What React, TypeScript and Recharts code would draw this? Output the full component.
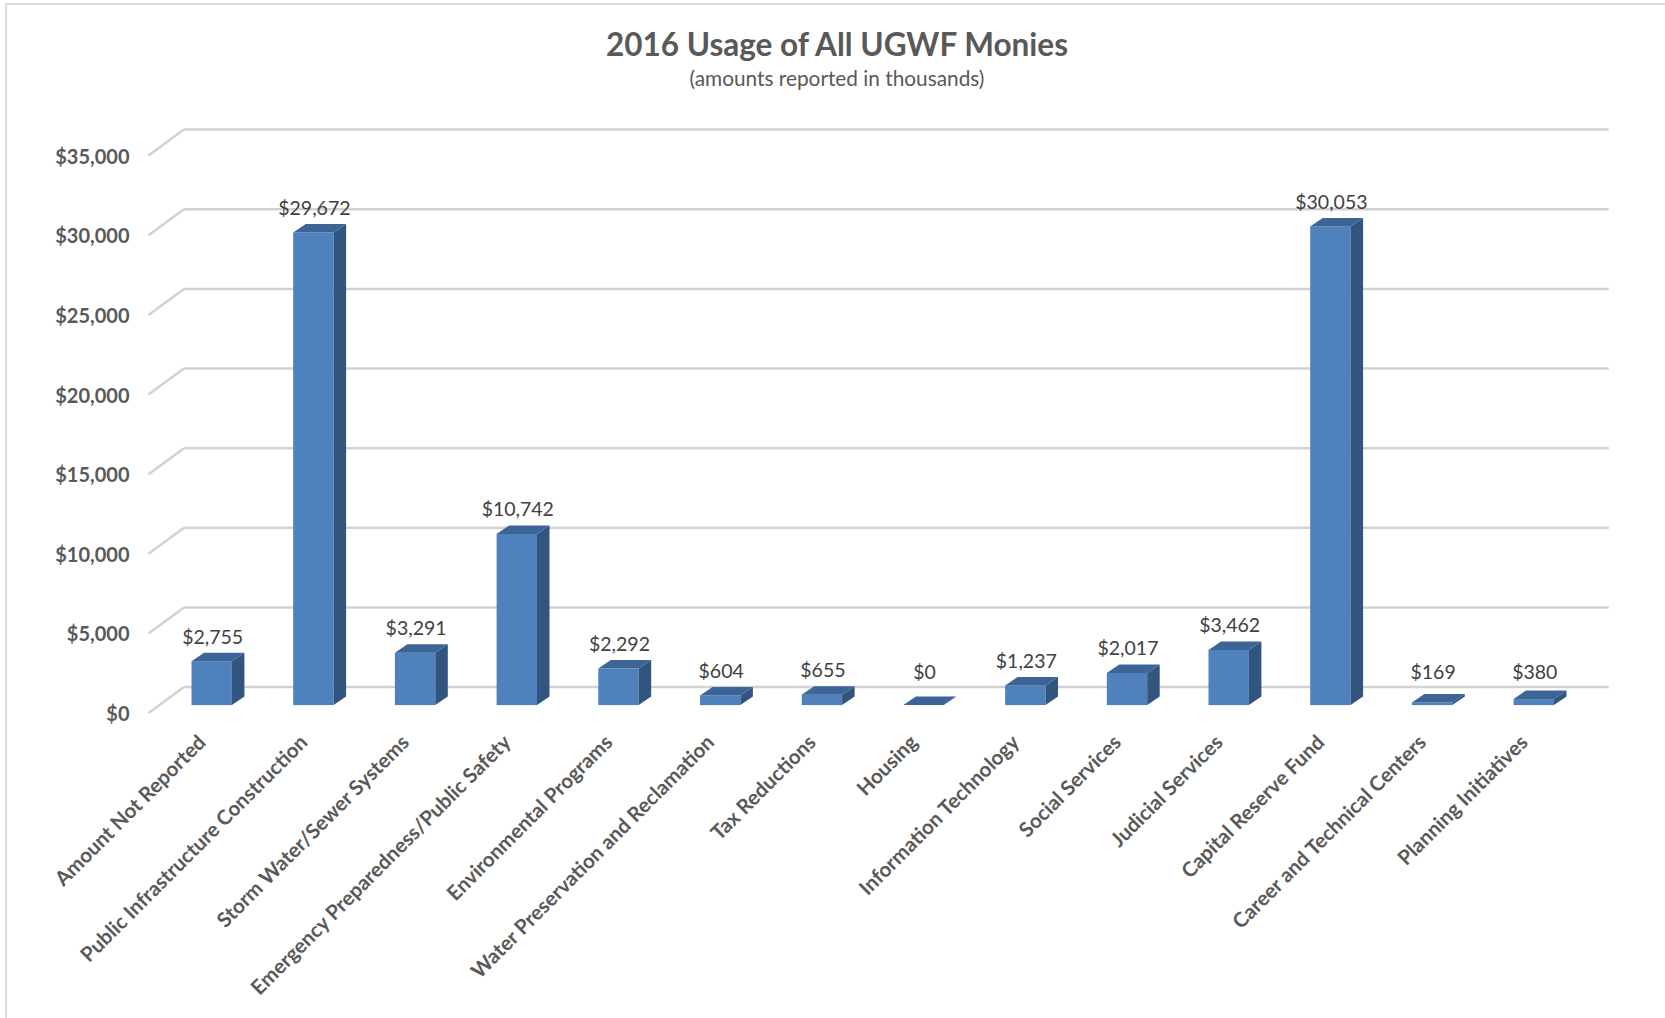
import { Bar, BarChart, CartesianGrid, LabelList, XAxis, YAxis } from "recharts";

const CATEGORIES = [
  "Amount Not Reported",
  "Public Infrastructure Construction",
  "Storm Water/Sewer Systems",
  "Emergency Preparedness/Public Safety",
  "Environmental Programs",
  "Water Preservation and Reclamation",
  "Tax Reductions",
  "Housing",
  "Information Technology",
  "Social Services",
  "Judicial Services",
  "Capital Reserve Fund",
  "Career and Technical Centers",
  "Planning Initiatives",
];

const VALUES = [2755, 29672, 3291, 10742, 2292, 604, 655, 0, 1237, 2017, 3462, 30053, 169, 380];

const Y_TICKS = [0, 5000, 10000, 15000, 20000, 25000, 30000, 35000];

const DATA = CATEGORIES.map((name, i) => ({ name, value: VALUES[i] }));

const FONT = "Lato, 'Open Sans', sans-serif";
const AXIS_GRAY = "#595959";
const GRID = "#D2D2D2";
const FRONT = "#4F81BD";
const SIDE = "#32557F";
const TOP = "#3C6496";
// 3D depth offsets
const DX = 12.5;
const DY = 8.5;
// labels of short bars never sit lower than this line
const LABEL_FLOOR = 671;

const money = (v: number) => "$" + v.toLocaleString("en-US");

function Bar3D(props: any) {
  const { x, y, width, height } = props;
  if (x == null || y == null) return null;
  const h = Math.max(0, height || 0);
  return (
    <g>
      <rect x={x} y={y} width={width} height={h} fill={FRONT} />
      <polygon
        points={`${x + width},${y} ${x + width + DX},${y - DY} ${x + width + DX},${y + h - DY} ${x + width},${y + h}`}
        fill={SIDE}
      />
      <polygon
        points={`${x},${y} ${x + DX},${y - DY} ${x + width + DX},${y - DY} ${x + width},${y}`}
        fill={TOP}
      />
    </g>
  );
}

function GridLine(props: any) {
  const { x1, x2, y1 } = props;
  return (
    <g key={`g-${y1}`}>
      <line x1={148.5} y1={y1 + 8} x2={x1 + 23.5} y2={y1 - 18} stroke={GRID} strokeWidth={2.5} />
      <line x1={x1 + 23.5} y1={y1 - 18} x2={x2 + 24.5} y2={y1 - 18} stroke={GRID} strokeWidth={2.5} />
    </g>
  );
}

function YTick(props: any) {
  const { y, payload } = props;
  return (
    <text
      x={129.5}
      y={y + 8}
      textAnchor="end"
      dominantBaseline="central"
      fill={AXIS_GRAY}
      fontFamily={FONT}
      fontWeight={700}
      fontSize={20}
    >
      {money(payload.value)}
    </text>
  );
}

function XTick(props: any) {
  const { x, payload } = props;
  const lx = x - 10;
  const ly = 738;
  return (
    <text
      x={lx}
      y={ly}
      textAnchor="end"
      dominantBaseline="central"
      transform={`rotate(-45, ${lx}, ${ly})`}
      fill={AXIS_GRAY}
      fontFamily={FONT}
      fontWeight={700}
      fontSize={20.5}
    >
      {payload.value}
    </text>
  );
}

function ValueLabel(props: any) {
  const { x, y, width, value } = props;
  return (
    <text
      x={x + width / 2 + 1}
      y={Math.min(y - 25, LABEL_FLOOR)}
      textAnchor="middle"
      dominantBaseline="central"
      fill="#404040"
      fontFamily={FONT}
      fontSize={19.5}
    >
      {money(value)}
    </text>
  );
}

export default function App() {
  return (
    <div
      style={{
        position: "absolute",
        left: 0,
        top: 0,
        width: 1665,
        height: 1018,
        background: "#fff",
        overflow: "hidden",
        fontFamily: FONT,
      }}
    >
      <div
        style={{
          position: "absolute",
          left: 5,
          top: 3,
          width: 1670,
          height: 1030,
          borderTop: "2px solid #DCDCDC",
          borderLeft: "2px solid #DCDCDC",
        }}
      />
      <div
        style={{
          position: "absolute",
          left: 0,
          width: 1674,
          top: 26,
          textAlign: "center",
          fontSize: 31.5,
          fontWeight: 700,
          color: AXIS_GRAY,
          lineHeight: "36px",
        }}
      >
        2016 Usage of All UGWF Monies
      </div>
      <div
        style={{
          position: "absolute",
          left: 0,
          width: 1674,
          top: 66,
          textAlign: "center",
          fontSize: 20.8,
          color: AXIS_GRAY,
          lineHeight: "24px",
        }}
      >
        (amounts reported in thousands)
      </div>
      <div style={{ position: "absolute", left: 0, top: 0 }}>
        <BarChart
          width={1665}
          height={1018}
          data={DATA}
          margin={{ top: 147.6, right: 80.7, bottom: 12.9, left: 100.5 }}
        >
          <CartesianGrid vertical={false} horizontal={GridLine} />
          <XAxis
            dataKey="name"
            interval={0}
            height={300}
            axisLine={false}
            tickLine={false}
            tick={XTick}
          />
          <YAxis
            width={60}
            domain={[0, 35000]}
            ticks={Y_TICKS}
            axisLine={false}
            tickLine={false}
            tick={YTick}
          />
          <Bar dataKey="value" barSize={40.4} shape={Bar3D} isAnimationActive={false}>
            <LabelList dataKey="value" content={ValueLabel} />
          </Bar>
        </BarChart>
      </div>
    </div>
  );
}
